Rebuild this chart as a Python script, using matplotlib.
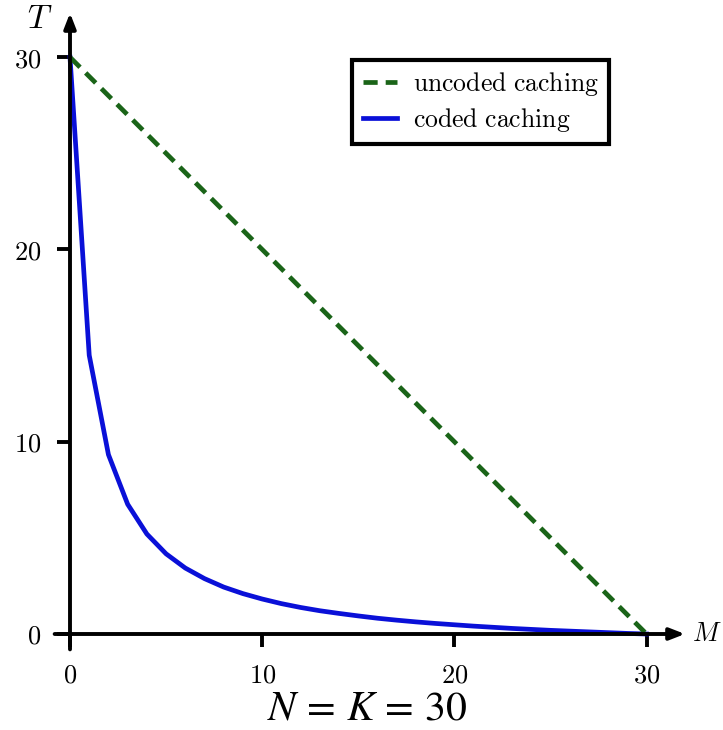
import matplotlib.pyplot as plt
import numpy as np

plt.rcParams['mathtext.fontset'] = 'cm'

# cache size M
m_vals = list(range(31))
# coded caching delivery time
coded_t = [30, 14.5, 9.33, 6.75, 5.2, 4.17, 3.43, 2.88, 2.44, 2.1,
           1.82, 1.58, 1.38, 1.21, 1.07, 0.94, 0.82, 0.72, 0.63, 0.55,
           0.48, 0.41, 0.35, 0.29, 0.24, 0.19, 0.15, 0.11, 0.07, 0.03, 0]
# uncoded caching: straight line from 30 down to 0
uncoded_m = [0, 30]
uncoded_t = [30, 0]

xticks = [0, 10, 20, 30]
yticks = [0, 10, 20, 30]

fig = plt.figure(figsize=(7.23, 7.30), dpi=100)
ax = fig.add_axes([70/723, 96/730, 615/723, 621/730])
ax.set_xlim(0, 32)
ax.set_ylim(0, 32.3)

ax.plot(uncoded_m, uncoded_t, color='#1a6418', lw=3.4, ls=(0, (3, 1.7)),
        label=r'$\mathrm{uncoded\ caching}$', clip_on=False, zorder=3)
ax.plot(m_vals, coded_t, color='#0a10d8', lw=3.4,
        label=r'$\mathrm{coded\ caching}$', clip_on=False, zorder=2)

for s in ax.spines.values():
    s.set_visible(False)

# axis arrows
ax.annotate('', xy=(32, 0), xytext=(-0.8, 0), xycoords='data',
            arrowprops=dict(arrowstyle='-|>,head_length=0.9,head_width=0.35',
                            color='black', lw=2.8, shrinkA=0, shrinkB=0),
            annotation_clip=False, zorder=4)
ax.annotate('', xy=(0, 32.3), xytext=(0, -0.8), xycoords='data',
            arrowprops=dict(arrowstyle='-|>,head_length=0.9,head_width=0.35',
                            color='black', lw=2.8, shrinkA=0, shrinkB=0),
            annotation_clip=False, zorder=4)

ax.set_xticks(xticks)
ax.set_yticks(yticks)
ax.set_xticklabels(['$%d$' % v for v in xticks])
ax.set_yticklabels(['$%d$' % v for v in yticks])
ax.tick_params(direction='out', length=9.5, width=2.8, labelsize=19, pad=11)

ax.text(32.35, 0, '$M$', fontsize=19, ha='left', va='center')
ax.text(-0.9, 32.0, '$T$', fontsize=24, ha='right', va='center')

leg = ax.legend(loc='upper right', bbox_to_anchor=(609/723, 670/730),
                bbox_transform=fig.transFigure, fontsize=18.5, frameon=True,
                fancybox=False, handlelength=1.35, borderpad=0.4,
                labelspacing=0.3, handletextpad=0.6, borderaxespad=0)
leg.get_frame().set_edgecolor('black')
leg.get_frame().set_linewidth(3)
leg.get_frame().set_alpha(1)

fig.text(367/723, 1 - 707/730, r'$N\,=\,K\,=\,30$', fontsize=30,
         ha='center', va='center', math_fontfamily='stix')

fig.savefig('out.png', dpi=100)
